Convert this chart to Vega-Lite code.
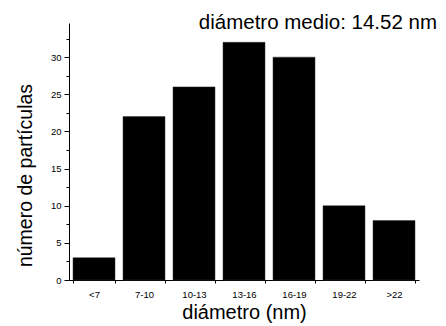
{
  "$schema": "https://vega.github.io/schema/vega-lite/v6.json",
  "width": 350,
  "height": 257,
  "autosize": {"type": "none"},
  "padding": {"left": 69, "top": 23, "right": 27, "bottom": 46},
  "background": "white",
  "title": {
    "text": "diámetro medio: 14.52 nm",
    "anchor": "end",
    "frame": "group",
    "orient": "top",
    "font": "Liberation Sans",
    "fontSize": 20.5,
    "fontWeight": "normal",
    "color": "black",
    "baseline": "alphabetic",
    "offset": 0,
    "dx": 18,
    "dy": 26
  },
  "data": {
    "values": [
      {"rango": "<7", "n": 3},
      {"rango": "7-10", "n": 22},
      {"rango": "10-13", "n": 26},
      {"rango": "13-16", "n": 32},
      {"rango": "16-19", "n": 30},
      {"rango": "19-22", "n": 10},
      {"rango": ">22", "n": 8}
    ]
  },
  "mark": {"type": "bar", "color": "black", "stroke": "#333333", "strokeWidth": 0.5},
  "encoding": {
    "x": {
      "field": "rango",
      "type": "nominal",
      "sort": null,
      "scale": {"paddingInner": 0.16, "paddingOuter": 0.08},
      "axis": {
        "title": "diámetro (nm)",
        "titleFont": "Liberation Sans",
        "titleFontSize": 20,
        "titleFontWeight": "normal",
        "titleColor": "black",
        "titlePadding": 4,
        "labelFont": "Liberation Sans",
        "labelFontSize": 9.5,
        "labelColor": "black",
        "labelAngle": 0,
        "labelPadding": 6,
        "tickBand": "extent",
        "tickSize": 3,
        "tickColor": "black",
        "domainColor": "black",
        "grid": false
      }
    },
    "y": {
      "field": "n",
      "type": "quantitative",
      "scale": {"domain": [0, 34.6], "nice": false},
      "axis": {
        "title": "número de partículas",
        "titleFont": "Liberation Sans",
        "titleFontSize": 19.5,
        "titleFontWeight": "normal",
        "titleColor": "black",
        "titleAngle": -90,
        "titleX": -44,
        "titleY": 152,
        "titleAlign": "center",
        "titleBaseline": "middle",
        "values": [0, 2.5, 5, 7.5, 10, 12.5, 15, 17.5, 20, 22.5, 25, 27.5, 30, 32.5],
        "labelExpr": "datum.value % 5 == 0 ? datum.label : ''",
        "labelFont": "Liberation Sans",
        "labelFontSize": 9.5,
        "labelColor": "black",
        "labelPadding": 3,
        "tickSize": {"condition": {"test": "datum.value % 5 == 0", "value": 5}, "value": 3},
        "tickColor": "black",
        "domainColor": "black",
        "grid": false
      }
    }
  },
  "config": {"view": {"stroke": null}}
}
